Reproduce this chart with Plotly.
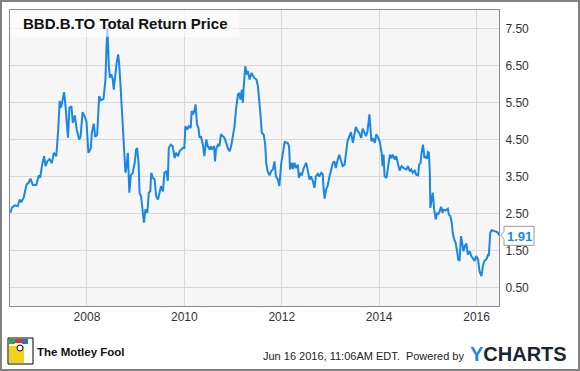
import plotly.graph_objects as go

# ---- data (decimal year, total return price) ----
dates = [
    2006.43, 2006.46, 2006.52, 2006.58, 2006.62, 2006.65, 2006.70, 2006.76, 2006.80, 2006.84,
    2006.89, 2006.96, 2007.01, 2007.04, 2007.08, 2007.12, 2007.15, 2007.19, 2007.23, 2007.28,
    2007.32, 2007.37, 2007.41, 2007.44, 2007.47, 2007.49, 2007.53, 2007.56, 2007.58, 2007.61,
    2007.64, 2007.68, 2007.71, 2007.75, 2007.79, 2007.84, 2007.87, 2007.91, 2007.95, 2007.99,
    2008.03, 2008.08, 2008.10, 2008.14, 2008.17, 2008.21, 2008.25, 2008.29, 2008.34, 2008.38,
    2008.40, 2008.42, 2008.45, 2008.47, 2008.50, 2008.53, 2008.55, 2008.58, 2008.61, 2008.64,
    2008.66, 2008.69, 2008.72, 2008.74, 2008.76, 2008.79, 2008.81, 2008.84, 2008.87, 2008.90,
    2008.94, 2008.98, 2009.01, 2009.03, 2009.06, 2009.08, 2009.11, 2009.15, 2009.17, 2009.20,
    2009.24, 2009.27, 2009.30, 2009.32, 2009.35, 2009.39, 2009.42, 2009.46, 2009.49, 2009.52,
    2009.56, 2009.59, 2009.63, 2009.66, 2009.68, 2009.72, 2009.76, 2009.80, 2009.83, 2009.87,
    2009.90, 2009.93, 2009.97, 2010.00, 2010.02, 2010.06, 2010.09, 2010.13, 2010.15, 2010.18,
    2010.21, 2010.23, 2010.26, 2010.29, 2010.31, 2010.34, 2010.38, 2010.41, 2010.45, 2010.48,
    2010.52, 2010.54, 2010.56, 2010.61, 2010.63, 2010.65, 2010.69, 2010.72, 2010.75, 2010.79,
    2010.82, 2010.86, 2010.89, 2010.93, 2010.96, 2010.99, 2011.03, 2011.06, 2011.10, 2011.13,
    2011.15, 2011.18, 2011.20, 2011.22, 2011.25, 2011.28, 2011.30, 2011.34, 2011.38, 2011.43,
    2011.48, 2011.51, 2011.54, 2011.56, 2011.59, 2011.63, 2011.66, 2011.68, 2011.71, 2011.75,
    2011.78, 2011.82, 2011.85, 2011.88, 2011.92, 2011.95, 2011.99, 2012.02, 2012.06, 2012.09,
    2012.12, 2012.15, 2012.17, 2012.21, 2012.23, 2012.26, 2012.29, 2012.33, 2012.35, 2012.38,
    2012.41, 2012.45, 2012.50, 2012.53, 2012.57, 2012.60, 2012.64, 2012.67, 2012.70, 2012.74,
    2012.77, 2012.81, 2012.84, 2012.86, 2012.88, 2012.91, 2012.94, 2012.98, 2013.01, 2013.05,
    2013.08, 2013.11, 2013.15, 2013.18, 2013.22, 2013.25, 2013.29, 2013.32, 2013.35, 2013.39,
    2013.42, 2013.46, 2013.49, 2013.52, 2013.56, 2013.59, 2013.63, 2013.66, 2013.70, 2013.73,
    2013.76, 2013.80, 2013.84, 2013.87, 2013.91, 2013.94, 2013.98, 2014.01, 2014.05, 2014.07,
    2014.09, 2014.11, 2014.15, 2014.18, 2014.22, 2014.25, 2014.28, 2014.32, 2014.35, 2014.39,
    2014.42, 2014.46, 2014.49, 2014.52, 2014.56, 2014.59, 2014.63, 2014.66, 2014.69, 2014.73,
    2014.76, 2014.80, 2014.82, 2014.85, 2014.87, 2014.90, 2014.93, 2014.95, 2014.98, 2015.00,
    2015.02, 2015.04, 2015.05, 2015.08, 2015.10, 2015.13, 2015.16, 2015.19, 2015.21, 2015.24,
    2015.27, 2015.30, 2015.32, 2015.36, 2015.41, 2015.43, 2015.46, 2015.49, 2015.51, 2015.54,
    2015.57, 2015.60, 2015.62, 2015.65, 2015.68, 2015.71, 2015.73, 2015.76, 2015.79, 2015.82,
    2015.86, 2015.89, 2015.92, 2015.96, 2015.99, 2016.03, 2016.06, 2016.10, 2016.13, 2016.16,
    2016.20, 2016.23, 2016.25, 2016.28, 2016.31, 2016.37, 2016.40, 2016.44, 2016.46,
]
prices = [
    2.52, 2.66, 2.72, 2.70, 2.88, 2.80, 2.93, 3.28, 3.33, 3.44,
    3.27, 3.27, 3.53, 3.47, 3.82, 4.05, 3.78, 3.92, 3.97, 3.86,
    4.14, 4.05, 4.77, 5.54, 5.36, 5.54, 5.78, 5.40, 5.04, 4.55,
    5.36, 5.40, 4.95, 5.15, 4.77, 4.50, 4.59, 5.24, 5.13, 4.99,
    4.14, 4.27, 4.68, 4.93, 4.57, 4.63, 5.67, 5.56, 5.60, 6.12,
    6.93, 7.52, 6.48, 6.17, 6.26, 6.12, 5.85, 6.30, 6.57, 6.80,
    6.57, 5.94, 5.18, 4.77, 4.14, 3.60, 3.74, 4.14, 3.06, 3.53,
    3.60, 3.87, 4.23, 4.27, 3.87, 3.06, 2.97, 2.52, 2.25, 2.61,
    2.52, 3.06, 3.10, 3.60, 3.47, 3.42, 2.97, 2.88, 3.06, 3.24,
    3.10, 3.60, 3.65, 3.38, 4.27, 4.36, 4.32, 4.00, 4.14, 4.05,
    4.18, 4.23, 4.27, 4.27, 4.86, 4.77, 4.86, 4.81, 5.27, 5.18,
    5.30, 5.45, 4.90, 4.81, 4.55, 4.59, 4.36, 4.05, 4.50, 4.32,
    4.23, 4.32, 4.23, 4.32, 3.91, 4.23, 4.36, 4.32, 4.64, 4.59,
    4.55, 4.41, 4.27, 4.18, 4.32, 4.55, 4.86, 5.31, 5.72, 5.76,
    5.58, 5.85, 5.49, 5.94, 6.48, 6.26, 6.35, 6.12, 6.30, 6.17,
    6.12, 5.94, 5.58, 5.22, 4.68, 4.63, 4.36, 3.87, 3.64, 3.53,
    3.64, 3.70, 3.91, 3.50, 3.42, 3.24, 3.87, 4.14, 4.45, 4.41,
    4.41, 4.32, 3.69, 3.87, 3.70, 3.87, 3.73, 3.82, 3.46, 3.60,
    3.53, 3.73, 3.87, 3.69, 3.42, 3.50, 3.37, 3.19, 3.50, 3.57,
    3.50, 3.60, 3.57, 3.15, 2.90, 3.15, 3.24, 3.50, 3.69, 3.87,
    3.91, 3.73, 3.96, 4.09, 3.91, 3.78, 3.82, 4.14, 4.45, 4.59,
    4.70, 4.41, 4.68, 4.84, 4.72, 4.68, 4.54, 4.79, 4.68, 4.59,
    4.72, 5.18, 4.45, 4.54, 4.41, 4.64, 4.54, 4.45, 4.14, 3.78,
    4.09, 3.51, 3.46, 3.69, 4.09, 4.00, 4.09, 3.96, 4.05, 3.82,
    3.66, 3.78, 3.73, 3.71, 3.69, 3.78, 3.64, 3.69, 3.60, 3.66,
    3.55, 3.53, 3.82, 3.87, 4.14, 4.36, 4.00, 4.05, 3.98, 4.16,
    4.14, 3.60, 2.65, 2.97, 3.06, 2.60, 2.34, 2.52, 2.47, 2.56,
    2.68, 2.52, 2.60, 2.58, 2.63, 2.47, 2.43, 2.25, 1.98, 1.80,
    1.71, 1.48, 1.26, 1.22, 1.89, 1.66, 1.48, 1.62, 1.69, 1.39,
    1.48, 1.35, 1.30, 1.22, 1.35, 1.26, 0.94, 0.81, 1.08, 1.22,
    1.26, 1.37, 1.35, 1.98, 2.05, 2.03, 2.01, 1.98, 1.91,
]
x_ticks = [2008, 2010, 2012, 2014, 2016]
x_tick_labels = ["2008", "2010", "2012", "2014", "2016"]
y_ticks = [0.5, 1.5, 2.5, 3.5, 4.5, 5.5, 6.5, 7.5]
y_tick_labels = ["0.50", "1.50", "2.50", "3.50", "4.50", "5.50", "6.50", "7.50"]

title_text = "BBD.B.TO Total Return Price"
footer_text = "Jun 16 2016, 11:06AM EDT.  Powered by"

LINE = "#1a87e6"
W, H = 580, 371
ML, MR, MT, MB = 10, 81, 10, 65
PW, PH = W - ML - MR, H - MT - MB
x_range = [2006.42, 2016.46]
y_range = [0.0, 8.0]


def px(xp):  # pixel x -> paper
    return (xp - ML) / PW


def py(yp):  # pixel y -> paper
    return (H - MB - yp) / PH


fig = go.Figure()
fig.add_trace(go.Scatter(x=dates, y=prices, mode="lines",
                         line=dict(color=LINE, width=2), hoverinfo="skip"))

font = "Liberation Sans, Arial, sans-serif"

fig.update_layout(
    width=W, height=H,
    margin=dict(l=ML, r=MR, t=MT, b=MB),
    paper_bgcolor="white", plot_bgcolor="#f6f6f6",
    showlegend=False,
    font=dict(family=font, size=12, color="#333333"),
    xaxis=dict(range=x_range, tickvals=x_ticks, ticktext=x_tick_labels,
               showgrid=True, gridcolor="#d9d9d9", gridwidth=1, zeroline=False,
               showline=True, linecolor="#8a8a8a", linewidth=1, mirror=True,
               ticks="", ticklen=0, ticklabelstandoff=0,
               tickfont=dict(size=12, color="#333333")),
    yaxis=dict(range=y_range, side="right", tickvals=y_ticks, ticktext=y_tick_labels,
               showgrid=True, gridcolor="#d9d9d9", gridwidth=1, zeroline=False,
               showline=True, linecolor="#8a8a8a", linewidth=1, mirror=True,
               ticks="", ticklen=0, ticklabelstandoff=3,
               tickfont=dict(size=12, color="#333333")),
)

shapes = []
# title backdrop
shapes.append(dict(type="rect", xref="paper", yref="paper",
                   x0=px(10), x1=px(239), y0=py(37), y1=py(10),
                   fillcolor="rgba(255,255,255,0.6)", line=dict(width=0), layer="above"))
# last value callout (anchored at the last data point)
last_x_paper = (dates[-1] - x_range[0]) / (x_range[1] - x_range[0])
shapes.append(dict(type="path", xref="paper", yref="y",
                   xsizemode="pixel", ysizemode="pixel",
                   xanchor=last_x_paper, yanchor=prices[-1],
                   path="M 2,0 L 5,4 L 5,9 L 35,9 L 35,-10 L 5,-10 L 5,-4 Z",
                   fillcolor="white", line=dict(color="#9a9a9a", width=1), layer="above"))
# outer image border
shapes.append(dict(type="rect", xref="paper", yref="paper",
                   x0=px(1), x1=px(579), y0=py(370), y1=py(1),
                   line=dict(color="#808080", width=2), fillcolor="rgba(0,0,0,0)"))
# simplified Motley Fool jester logo
shapes.append(dict(type="rect", xref="paper", yref="paper",
                   x0=px(8), x1=px(33), y0=py(364), y1=py(338),
                   fillcolor="white", line=dict(color="black", width=1)))
shapes.append(dict(type="rect", xref="paper", yref="paper",
                   x0=px(9), x1=px(24), y0=py(363), y1=py(346),
                   fillcolor="#f2d21b", line=dict(width=0)))
shapes.append(dict(type="rect", xref="paper", yref="paper",
                   x0=px(9), x1=px(15), y0=py(344), y1=py(339),
                   fillcolor="#2aa84a", line=dict(width=0)))
shapes.append(dict(type="rect", xref="paper", yref="paper",
                   x0=px(15), x1=px(22), y0=py(343), y1=py(339),
                   fillcolor="#e03030", line=dict(width=0)))
shapes.append(dict(type="rect", xref="paper", yref="paper",
                   x0=px(22), x1=px(28), y0=py(344), y1=py(339),
                   fillcolor="#2f6fd0", line=dict(width=0)))
shapes.append(dict(type="circle", xref="paper", yref="paper",
                   x0=px(17), x1=px(23), y0=py(351), y1=py(345),
                   fillcolor="white", line=dict(color="black", width=1)))
fig.update_layout(shapes=shapes)

annotations = [
    dict(xref="paper", yref="paper", x=px(21), y=py(23), xanchor="left", yanchor="middle",
         text="<b>" + title_text + "</b>", showarrow=False,
         font=dict(family=font, size=15, color="#111111")),
    dict(xref="paper", yref="y", x=last_x_paper, y=prices[-1], xanchor="center", yanchor="middle",
         xshift=20, yshift=-1, text="<b>%.2f</b>" % prices[-1], showarrow=False,
         font=dict(family=font, size=13, color=LINE)),
    dict(xref="paper", yref="paper", x=px(466), y=py(356), xanchor="right", yanchor="middle",
         text=footer_text, showarrow=False, font=dict(family=font, size=11, color="#222222")),
    dict(xref="paper", yref="paper", x=px(468), y=py(354), xanchor="left", yanchor="middle",
         text="<b><span style='color:#1a8ce6'>Y</span>CHARTS</b>", showarrow=False,
         font=dict(family=font, size=20, color="#1b2630")),
    dict(xref="paper", yref="paper", x=px(35), y=py(352), xanchor="left", yanchor="middle",
         text="<b>The Motley Fool</b>", showarrow=False,
         font=dict(family=font, size=11.5, color="#111111")),
]
fig.update_layout(annotations=annotations)

fig.write_html("out.html", config={"displayModeBar": False},
               post_script="document.body.style.margin='0';")
